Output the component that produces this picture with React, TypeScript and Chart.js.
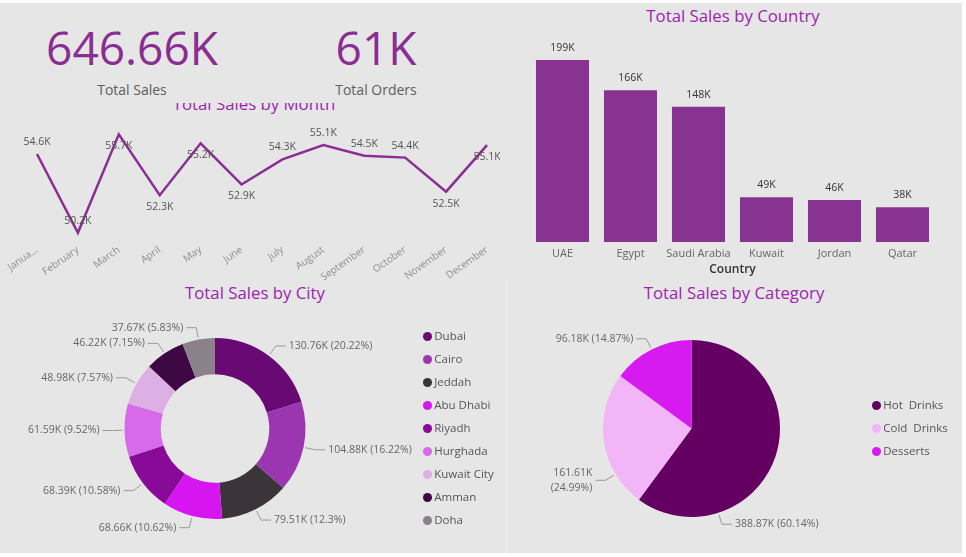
import React, { useEffect, useRef } from "react";
import { Chart, registerables } from "chart.js";

Chart.register(...registerables);

const FONT = '"Open Sans", "Segoe UI", sans-serif';

// ---------- data ----------
const months = ["January", "February", "March", "April", "May", "June", "July", "August", "September", "October", "November", "December"];
const monthTickLabels = ["Janua...", "February", "March", "April", "May", "June", "July", "August", "September", "October", "November", "December"];
const monthlySales = [54.6, 50.2, 55.7, 52.3, 55.2, 52.9, 54.3, 55.1, 54.5, 54.4, 52.5, 55.1];

const countries = ["UAE", "Egypt", "Saudi Arabia", "Kuwait", "Jordan", "Qatar"];
const countrySales = [199, 166, 148, 49, 46, 38];

const cities = ["Dubai", "Cairo", "Jeddah", "Abu Dhabi", "Riyadh", "Hurghada", "Kuwait City", "Amman", "Doha"];
const citySales = [130.76, 104.88, 79.51, 68.66, 68.39, 61.59, 48.98, 46.22, 37.67];

const categories = ["Hot  Drinks", "Cold  Drinks", "Desserts"];
const categorySales = [388.87, 161.61, 96.18];

const totalOrdersK = 61;

// ---------- styles ----------
const KPI_COLOR = "#8a2d93";
const TITLE_COLOR = "#9c23ad";
const LINE_COLOR = "#8b2e93";
const BAR_COLOR = "#883292";
const cityColors = ["#690a74", "#9c36b0", "#3b3539", "#d715f0", "#890a99", "#d66ae8", "#ddb0e5", "#3e0843", "#8a818a"];
const categoryColors = ["#640061", "#f2b5f7", "#d71bf0"];

// ---------- plugins ----------
const lineLabels = {
  id: "lineLabels",
  afterDatasetsDraw(chart: any, _a: any, opts: any) {
    const meta = chart.getDatasetMeta(0);
    const values = chart.data.datasets[0].data as number[];
    const ctx = chart.ctx;
    ctx.save();
    ctx.font = `${opts.size}px ${FONT}`;
    ctx.fillStyle = opts.color;
    ctx.textAlign = "center";
    ctx.textBaseline = "middle";
    meta.data.forEach((pt: any, i: number) => {
      const below = opts.below.includes(i);
      ctx.fillText(`${values[i].toFixed(1)}K`, pt.x, pt.y + (below ? opts.offset : -opts.offset));
    });
    ctx.restore();
  },
};

const barLabels = {
  id: "barLabels",
  afterDatasetsDraw(chart: any, _a: any, opts: any) {
    const meta = chart.getDatasetMeta(0);
    const values = chart.data.datasets[0].data as number[];
    const ctx = chart.ctx;
    ctx.save();
    ctx.font = `${opts.size}px ${FONT}`;
    ctx.fillStyle = opts.color;
    ctx.textAlign = "center";
    ctx.textBaseline = "middle";
    meta.data.forEach((bar: any, i: number) => {
      ctx.fillText(`${values[i]}K`, bar.x, bar.y - opts.offset);
    });
    ctx.restore();
  },
};

const arcLabels = {
  id: "arcLabels",
  afterDatasetsDraw(chart: any, _a: any, opts: any) {
    const meta = chart.getDatasetMeta(0);
    const values = chart.data.datasets[0].data as number[];
    const total = values.reduce((a, b) => a + b, 0);
    const ctx = chart.ctx;
    ctx.save();
    ctx.font = `${opts.size}px ${FONT}`;
    ctx.fillStyle = opts.color;
    ctx.strokeStyle = opts.lineColor;
    ctx.lineWidth = 1;
    ctx.textBaseline = "middle";
    meta.data.forEach((arc: any, i: number) => {
      const { x, y, startAngle, endAngle, outerRadius } = arc.getProps(["x", "y", "startAngle", "endAngle", "outerRadius"], true);
      const f = opts.anchor ? opts.anchor[i] : 0.5;
      const a = startAngle + (endAngle - startAngle) * f;
      const c = Math.cos(a);
      const s = Math.sin(a);
      const x1 = x + c * (outerRadius + 2);
      const y1 = y + s * (outerRadius + 2);
      const x2 = x + c * (outerRadius + 12);
      const y2 = y + s * (outerRadius + 12);
      const dir = c >= 0 ? 1 : -1;
      const x3 = x2 + dir * 10;
      ctx.beginPath();
      ctx.moveTo(x1, y1);
      ctx.lineTo(x2, y2);
      ctx.lineTo(x3, y2);
      ctx.stroke();
      const v = values[i];
      const val = `${v.toFixed(2)}K`;
      const pct = `(${parseFloat(((v / total) * 100).toFixed(2))}%)`;
      ctx.textAlign = dir > 0 ? "left" : "right";
      const tx = x3 + dir * 3;
      if (opts.wrap && opts.wrap[i]) {
        ctx.fillText(val, tx, y2 - 7.5);
        ctx.fillText(pct, tx, y2 + 7.5);
      } else {
        ctx.fillText(`${val} ${pct}`, tx, y2);
      }
    });
    ctx.restore();
  },
};

// ---------- configs ----------
function lineConfig(): any {
  return {
    type: "line",
    data: {
      labels: months,
      datasets: [{ data: monthlySales, borderColor: LINE_COLOR, borderWidth: 2.5, pointRadius: 0, tension: 0, fill: false }],
    },
    options: {
      animation: false,
      responsive: false,
      layout: { padding: { left: 37, right: 13, top: 20, bottom: 0 } },
      plugins: {
        legend: { display: false },
        tooltip: { enabled: false },
        lineLabels: { size: 10.5, color: "#555", offset: 12, below: [2, 3, 4, 5, 10, 11] },
      },
      scales: {
        x: {
          grid: { display: false, drawTicks: false },
          border: { display: false },
          ticks: {
            color: "#8c8c8c",
            font: { size: 10, family: FONT },
            minRotation: 35,
            maxRotation: 35,
            autoSkip: false,
            padding: 4,
            callback: (_v: any, i: number) => monthTickLabels[i],
          },
          afterFit: (s: any) => {
            s.height = 40;
          },
        },
        y: { display: false, min: 49.8, max: 56.5 },
      },
    },
    plugins: [lineLabels],
  };
}

function barConfig(): any {
  return {
    type: "bar",
    data: {
      labels: countries,
      datasets: [{ data: countrySales, backgroundColor: BAR_COLOR, categoryPercentage: 0.78, barPercentage: 1 }],
    },
    options: {
      animation: false,
      responsive: false,
      layout: { padding: { left: 28.5, right: 29.5, top: 40, bottom: 0 } },
      plugins: {
        legend: { display: false },
        tooltip: { enabled: false },
        barLabels: { size: 10.5, color: "#333", offset: 12 },
      },
      scales: {
        x: {
          grid: { display: false, drawTicks: false },
          border: { display: false },
          ticks: { color: "#666", font: { size: 11, family: FONT }, padding: 5, autoSkip: false, maxRotation: 0 },
          title: { display: true, text: "Country", color: "#333", font: { size: 12, family: FONT, weight: "600" }, padding: { top: 0, bottom: 3 } },
          afterFit: (s: any) => {
            s.height = 38;
          },
        },
        y: { display: false, min: 0, max: 221 },
      },
    },
    plugins: [barLabels],
  };
}

function cityConfig(): any {
  return {
    type: "doughnut",
    data: {
      labels: cities,
      datasets: [{ data: citySales, backgroundColor: cityColors, borderWidth: 0 }],
    },
    options: {
      animation: false,
      responsive: false,
      radius: 90.5,
      cutout: "60%",
      layout: { padding: { left: 15, right: 0, top: 20, bottom: 0 } },
      plugins: {
        tooltip: { enabled: false },
        legend: {
          position: "right",
          align: "center",
          maxWidth: 85,
          labels: {
            usePointStyle: true,
            pointStyle: "circle",
            boxWidth: 2,
            boxHeight: 6.4,
            padding: 11.5,
            color: "#555",
            font: { size: 11.5, family: FONT },
          },
        },
        arcLabels: { size: 10.5, color: "#666", lineColor: "#999" },
      },
    },
    plugins: [arcLabels],
  };
}

function categoryConfig(): any {
  return {
    type: "pie",
    data: {
      labels: categories,
      datasets: [{ data: categorySales, backgroundColor: categoryColors, borderWidth: 0 }],
    },
    options: {
      animation: false,
      responsive: false,
      radius: 88.5,
      layout: { padding: { left: 13, right: 12, top: 20, bottom: 0 } },
      plugins: {
        tooltip: { enabled: false },
        legend: {
          position: "right",
          align: "center",
          maxWidth: 90,
          labels: {
            usePointStyle: true,
            pointStyle: "circle",
            boxWidth: 2,
            boxHeight: 6.4,
            padding: 11.5,
            color: "#555",
            font: { size: 11.5, family: FONT },
          },
        },
        arcLabels: { size: 10.5, color: "#666", lineColor: "#999", anchor: [0.75, 0.25, 0.5], wrap: [false, true, false] },
      },
    },
    plugins: [arcLabels],
  };
}

// ---------- components ----------
function ChartBox(props: { left: number; top: number; width: number; height: number; make: () => any; z?: number }) {
  const ref = useRef<HTMLCanvasElement | null>(null);
  useEffect(() => {
    if (!ref.current) return;
    const chart = new Chart(ref.current, props.make());
    return () => chart.destroy();
  }, []);
  return (
    <canvas
      ref={ref}
      width={props.width}
      height={props.height}
      style={{ position: "absolute", left: props.left, top: props.top, width: props.width, height: props.height, zIndex: props.z ?? 1 }}
    />
  );
}

function Title(props: { text: string; cx: number; cy: number; z?: number }) {
  return (
    <div
      style={{
        position: "absolute",
        left: props.cx - 150,
        top: props.cy - 11,
        width: 300,
        height: 22,
        lineHeight: "22px",
        textAlign: "center",
        fontFamily: FONT,
        fontSize: 16.8,
        color: TITLE_COLOR,
        whiteSpace: "nowrap",
        zIndex: props.z ?? 1,
      }}
    >
      {props.text}
    </div>
  );
}

function Kpi(props: { value: string; label: string; cx: number }) {
  return (
    <>
      <div
        style={{
          position: "absolute",
          left: props.cx - 150,
          top: 12,
          width: 300,
          height: 64,
          lineHeight: "64px",
          textAlign: "center",
          fontFamily: FONT,
          fontSize: 46,
          color: KPI_COLOR,
        }}
      >
        {props.value}
      </div>
      <div
        style={{
          position: "absolute",
          left: props.cx - 150,
          top: 77,
          width: 300,
          height: 20,
          lineHeight: "20px",
          textAlign: "center",
          fontFamily: FONT,
          fontSize: 14,
          color: "#605e5c",
        }}
      >
        {props.label}
      </div>
    </>
  );
}

export default function App() {
  const totalSalesK = citySales.reduce((a, b) => a + b, 0);
  return (
    <div style={{ position: "fixed", left: 0, top: 0, width: 966, height: 557, background: "#ffffff", overflow: "hidden" }}>
      <div style={{ position: "absolute", left: 0, top: 3, width: 962, height: 550, background: "#e6e6e6" }} />
      <div style={{ position: "absolute", left: 506, top: 283, height: 270, width: 0, borderLeft: "1px dotted #ffffff", zIndex: 1 }} />

      {/* Line chart: Total Sales by Month */}
      <Title text="Total Sales by Month" cx={254} cy={104} z={1} />
      <ChartBox left={0} top={100} width={500} height={180} make={lineConfig} z={1} />

      {/* KPI cards (cover the top of the month title, as in the reference) */}
      <div style={{ position: "absolute", left: 0, top: 3, width: 495, height: 100, background: "#e6e6e6", zIndex: 2 }}>
        <Kpi value={`${totalSalesK.toFixed(2)}K`} label="Total Sales" cx={132} />
        <Kpi value={`${totalOrdersK}K`} label="Total Orders" cx={376} />
      </div>

      {/* Bar chart: Total Sales by Country */}
      <Title text="Total Sales by Country" cx={733} cy={16} />
      <ChartBox left={500} top={0} width={466} height={280} make={barConfig} />

      {/* Doughnut: Total Sales by City */}
      <Title text="Total Sales by City" cx={255} cy={293} />
      <ChartBox left={0} top={280} width={500} height={277} make={cityConfig} />

      {/* Pie: Total Sales by Category */}
      <Title text="Total Sales by Category" cx={734} cy={293} />
      <ChartBox left={506} top={280} width={460} height={277} make={categoryConfig} z={2} />
    </div>
  );
}
